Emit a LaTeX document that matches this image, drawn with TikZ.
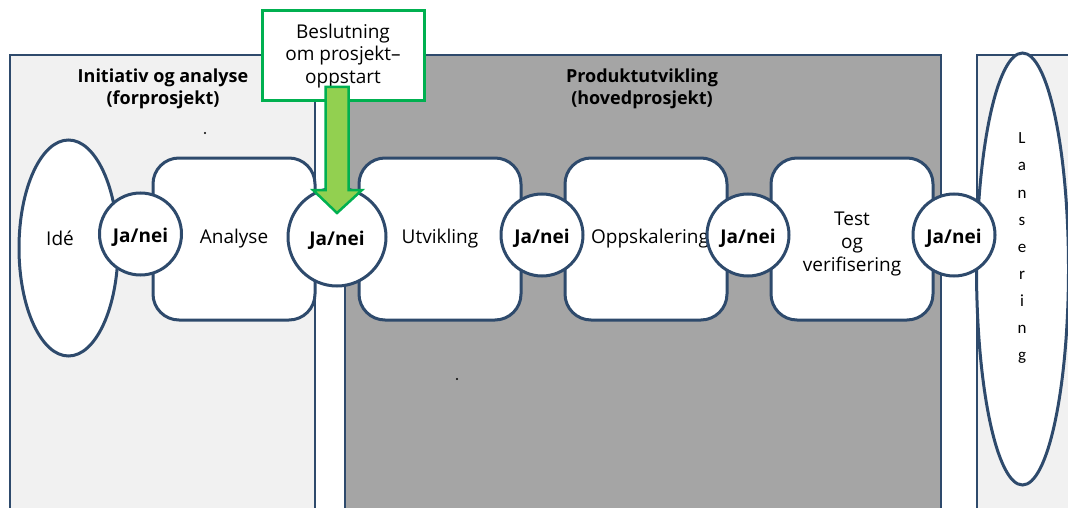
\documentclass[tikz,border=0pt]{standalone}
\usepackage{fontspec}
\setmainfont{Open Sans}
\newfontfamily\letterfont{Carlito}
\usetikzlibrary{shapes.geometric}
\definecolor{navy}{HTML}{2E4A6C}
\definecolor{panellight}{HTML}{F1F1F1}
\definecolor{paneldark}{HTML}{A5A5A5}
\definecolor{gateline}{HTML}{00B050}
\definecolor{gatefill}{HTML}{92D050}
\tikzset{
  panel/.style={draw=navy, line width=2.5pt},
  stagebox/.style={draw=navy, fill=white, line width=3pt, rounded corners=26pt,
    minimum width=162pt, minimum height=162pt, inner sep=0pt, align=center,
    font=\fontsize{19}{23}\selectfont},
  gate/.style={draw=navy, fill=white, line width=3pt, circle, minimum size=82pt,
    inner sep=0pt, text height=17pt, text depth=0pt,
    font=\fontsize{19}{23}\selectfont\bfseries},
  oval/.style={draw=navy, fill=white, line width=3pt, ellipse, inner sep=0pt},
  plain/.style={font=\fontsize{19}{23}\selectfont, align=center, inner sep=0pt},
  title/.style={font=\fontsize{18}{22}\selectfont\bfseries, align=center, inner sep=0pt},
  decision/.style={draw=gateline, fill=white, line width=3pt, minimum width=162pt,
    minimum height=90pt, inner sep=0pt, align=center,
    font=\fontsize{19}{22.5}\selectfont},
  dot/.style={fill=black}
}
\begin{document}
\begin{tikzpicture}[x=1pt, y=-1pt]
\useasboundingbox (0,0) rectangle (1068,508);
\clip (0,0) rectangle (1068,508);

% phase panels
\path[panel, fill=panellight] (10,55) rectangle (315,530);
\path[panel, fill=paneldark] (345,55) rectangle (941,530);
\path[panel, fill=panellight] (977,55) rectangle (1090,530);

\node[title] (t1) at (163,89) {Initiativ og analyse\\(forprosjekt)};
\node[title] (t2) at (642,89) {Produktutvikling\\(hovedprosjekt)};

% stray marks
\fill[dot] (205,133) circle (1.1);
\fill[dot] (457,379) circle (1.1);
\fill[dot] (512,257) circle (0.8);

% initial idea
\node[oval, minimum width=99pt, minimum height=216pt] (ide) at (68.5,248) {};
\node[plain] (idetext) at (60,238) {Idé};

% stages
\node[stagebox] (analyse) at (234,239) {Analyse};
\node[stagebox] (utv) at (440,239) {Utvikling};
\node[stagebox] (opp) at (646,239) {\hspace*{8pt}Oppskalering};
\node[stagebox, label={[plain, yshift=-5pt]center:Test\\og\\verifisering}]
  (test) at (852,239) {};

% launch
\node[oval, minimum width=92pt, minimum height=432pt] (lans) at (1022.5,269) {};
\foreach \ch [count=\i from 0] in {L,a,n,s,e,r,i,n,g}
  \node[font=\letterfont\fontsize{17}{20}\selectfont, inner sep=0pt, anchor=base]
    (l\i) at (1022,144+27*\i) {\ch};

% decision gates
\node[gate] (g1) at (140.5,234) {Ja/nei};
\node[gate, minimum size=98pt] (g2) at (337,237) {Ja/nei};
\node[gate] (g3) at (542,235) {Ja/nei};
\node[gate] (g4) at (748,235) {Ja/nei};
\node[gate] (g5) at (954,235) {Ja/nei};

% project start decision with its arrow onto the second gate
\node[decision] (beslut) at (343,56) {Beslutning\\om prosjekt–\\oppstart};
\draw[draw=gateline, fill=gatefill, line width=2.5pt, line join=miter]
  (325.5,87) -- (348.5,87) -- (348.5,190) -- (362,190) -- (337,213)
  -- (313,190) -- (325.5,190) -- cycle;
\end{tikzpicture}
\end{document}
